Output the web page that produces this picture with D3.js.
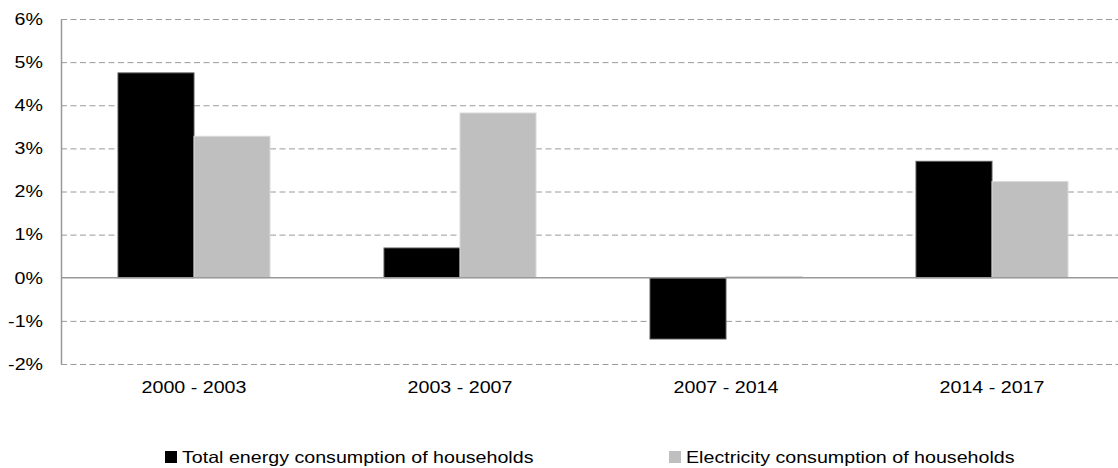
<!DOCTYPE html>
<html>
<head>
<meta charset="utf-8">
<script src="https://cdn.jsdelivr.net/npm/d3@7/dist/d3.min.js"></script>
<style>
  html, body { margin: 0; padding: 0; background: #fff; }
  svg { display: block; font-family: "Liberation Sans", Arial, sans-serif; }
</style>
</head>
<body>
<svg id="chart" width="1118" height="468"></svg>
<script>
// Household consumption growth rates by period (annual %, shown as fractions)
const periods = ["2000 - 2003", "2003 - 2007", "2007 - 2014", "2014 - 2017"];
const seriesNames = ["Total energy consumption of households", "Electricity consumption of households"];
const totalEnergy = [0.0475, 0.0069, -0.0142, 0.0270];
const electricity = [0.0328, 0.0382, 0.0003, 0.0223];
const yTicks = [-0.02, -0.01, 0, 0.01, 0.02, 0.03, 0.04, 0.05, 0.06];

const seriesValues = [totalEnergy, electricity];
const fills = ["#000000", "#bfbfbf"];
const strokes = ["#595959", "#d9d9d9"];
const fontSize = 16.5;
const textStretch = 1.19; // glyphs are drawn wider than their nominal advance

const svg = d3.select("#chart");
const plotLeft = 61, plotRight = 1125, plotTop = 19, plotBottom = 364;

const x0 = d3.scaleBand().domain(periods).range([plotLeft, plotRight]).paddingInner(0).paddingOuter(0);
const x1 = d3.scaleBand().domain(seriesNames).range([0, x0.bandwidth()]).paddingInner(0).paddingOuter(0.75);
const y = d3.scaleLinear().domain([-0.02, 0.06]).range([plotBottom, plotTop]);

function widen(sel) {
  sel.each(function () {
    const len = this.getComputedTextLength();
    d3.select(this)
      .attr("textLength", len * textStretch)
      .attr("lengthAdjust", "spacingAndGlyphs");
  });
}

// dashed gridlines
svg.append("g")
  .selectAll("line")
  .data(yTicks.filter(d => d !== 0))
  .join("line")
  .attr("x1", plotLeft).attr("x2", 1118)
  .attr("y1", d => y(d) + 0.5).attr("y2", d => y(d) + 0.5)
  .attr("stroke", "#9a9a9a")
  .attr("stroke-width", 1)
  .attr("stroke-dasharray", "6,3.5");

// bars
const rows = periods.map((p, i) => seriesNames.map((s, j) => ({ period: p, series: s, idx: j, value: seriesValues[j][i] })));
svg.append("g")
  .selectAll("g")
  .data(rows)
  .join("g")
  .attr("transform", d => `translate(${x0(d[0].period)},0)`)
  .selectAll("rect")
  .data(d => d)
  .join("rect")
  .attr("x", d => x1(d.series))
  .attr("width", x1.bandwidth())
  .attr("y", d => y(Math.max(0, d.value)))
  .attr("height", d => Math.abs(y(d.value) - y(0)))
  .attr("fill", d => fills[d.idx])
  .attr("stroke", d => strokes[d.idx])
  .attr("stroke-width", 1);

// zero line
svg.append("line")
  .attr("x1", plotLeft).attr("x2", 1118)
  .attr("y1", y(0)).attr("y2", y(0))
  .attr("stroke", "#999999")
  .attr("stroke-width", 1.5);

// left axis
const yAxis = d3.axisLeft(y)
  .tickValues(yTicks)
  .tickSize(0)
  .tickPadding(18)
  .tickFormat(d => Math.round(d * 100) + "%");
const ya = svg.append("g").attr("transform", `translate(${plotLeft},0)`).call(yAxis);
ya.select(".domain").attr("stroke", "#999999").attr("stroke-width", 1.5);
ya.selectAll("text").attr("font-size", fontSize).attr("fill", "#000")
  .attr("font-family", "Liberation Sans, Arial, sans-serif")
  .call(widen);

// category labels
const xAxis = d3.axisBottom(x0).tickSize(0).tickPadding(0);
const xa = svg.append("g").attr("transform", `translate(0,${plotBottom})`).call(xAxis);
xa.select(".domain").remove();
xa.selectAll("text")
  .attr("font-size", fontSize).attr("fill", "#000")
  .attr("font-family", "Liberation Sans, Arial, sans-serif")
  .attr("dy", null).attr("y", 29)
  .call(widen);

// legend
const legendX = [165, 669];
const legend = svg.append("g")
  .selectAll("g")
  .data(seriesNames)
  .join("g")
  .attr("transform", (d, i) => `translate(${legendX[i]},451)`);
legend.append("rect")
  .attr("width", 12).attr("height", 12)
  .attr("fill", (d, i) => fills[i]);
legend.append("text")
  .attr("x", 17).attr("y", 12)
  .attr("font-size", fontSize)
  .attr("fill", "#000")
  .text(d => d)
  .call(widen);
</script>
</body>
</html>
